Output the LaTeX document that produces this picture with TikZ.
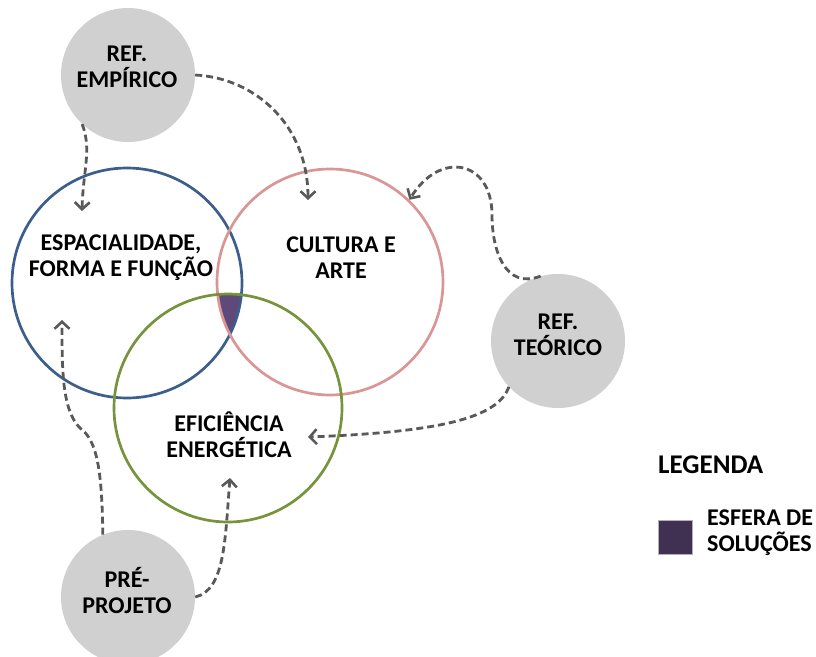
\documentclass[tikz,border=0pt]{standalone}
\usepackage{fontspec}
\setmainfont{Carlito}
\usetikzlibrary{arrows.meta}
\definecolor{cblue}{HTML}{3B5E8C}
\definecolor{cpink}{HTML}{DA9694}
\definecolor{cgreen}{HTML}{77933C}
\definecolor{cgray}{HTML}{D0D0D0}
\definecolor{carrow}{HTML}{595959}
\definecolor{cpurple}{HTML}{5F497A}
\definecolor{clegend}{HTML}{403152}
\tikzset{
  sphere/.style={circle, draw, line width=2.7pt, minimum size=#1, inner sep=0pt},
  refbox/.style={circle, fill=cgray, minimum size=134pt, inner sep=0pt},
  lbl/.style={align=center, inner sep=0pt, font=\fontsize{24}{26}\selectfont\bfseries},
  dasharrow/.style={draw=carrow, line width=2.8pt, dash pattern=on 7pt off 4pt,
    -{Straight Barb[length=7pt,width=15pt,line width=2.6pt]}},
}
\begin{document}
\begin{tikzpicture}[x=1pt,y=-1pt]
\useasboundingbox (0,0) rectangle (816,656);
% spheres
\begin{scope}
  \clip (127,283) circle (115);
  \clip (330,282) circle (113);
  \fill[cpurple] (228,408) circle (114);
\end{scope}
\node[sphere=230pt, draw=cblue] (blue) at (127,283) {};
\node[sphere=226pt, draw=cpink] (pink) at (330,282) {};
\node[sphere=228pt, draw=cgreen] (green) at (228,408) {};
\node[lbl] (tblue) at (121,258) {ESPACIALIDADE,\\FORMA E FUNÇÃO};
\node[lbl] (tpink) at (341,258) {CULTURA E\\ARTE};
\node[lbl] (tgreen) at (229,435) {EFICIÊNCIA\\ENERGÉTICA};
% reference circles
\node[refbox] (emp) at (128,75) {};
\node[refbox] (teo) at (558,341) {};
\node[refbox] (pre) at (128,597) {};
\node[lbl] (temp) at (127,67) {REF.\\EMPÍRICO};
\node[lbl] (tteo) at (558,335) {REF.\\TEÓRICO};
\node[lbl] (tpre) at (127,590) {PRÉ-\\PROJETO};
% arrow tips
\coordinate (tipA) at (82,211);
\coordinate (tipB) at (308,200);
\coordinate (tipD) at (308,437);
\coordinate (tipE) at (62,320);
\coordinate (tipF) at (230,478);
% arrows
\draw[dasharrow] (emp.227) .. controls (92,150) and (83,170) .. (tipA);
\draw[dasharrow] (emp.east) .. controls (255,78) and (308,125) .. (tipB);
\draw[dasharrow] (teo.105) .. controls (505,290) and (492,250) .. (492,215)
   .. controls (492,160) and (440,150) .. (pink.46);
\draw[dasharrow] (teo.223) .. controls (498,418) and (440,432) .. (tipD);
\draw[dasharrow] (pre.112) .. controls (102,470) and (97,440) .. (80,428)
   .. controls (62,410) and (62,370) .. (tipE);
\draw[dasharrow] (pre.east) .. controls (225,590) and (225,540) .. (tipF);
% legend
\node[lbl, font=\fontsize{27}{28}\selectfont\bfseries, anchor=west] (leg) at (658,465) {LEGENDA};
\node[draw=gray!60, line width=0.5pt, fill=clegend, minimum size=34pt, inner sep=0pt] (legsq) at (675,537) {};
\node[lbl, align=left, anchor=west] (legtxt) at (707,533) {ESFERA DE\\SOLUÇÕES};
\end{tikzpicture}
\end{document}
